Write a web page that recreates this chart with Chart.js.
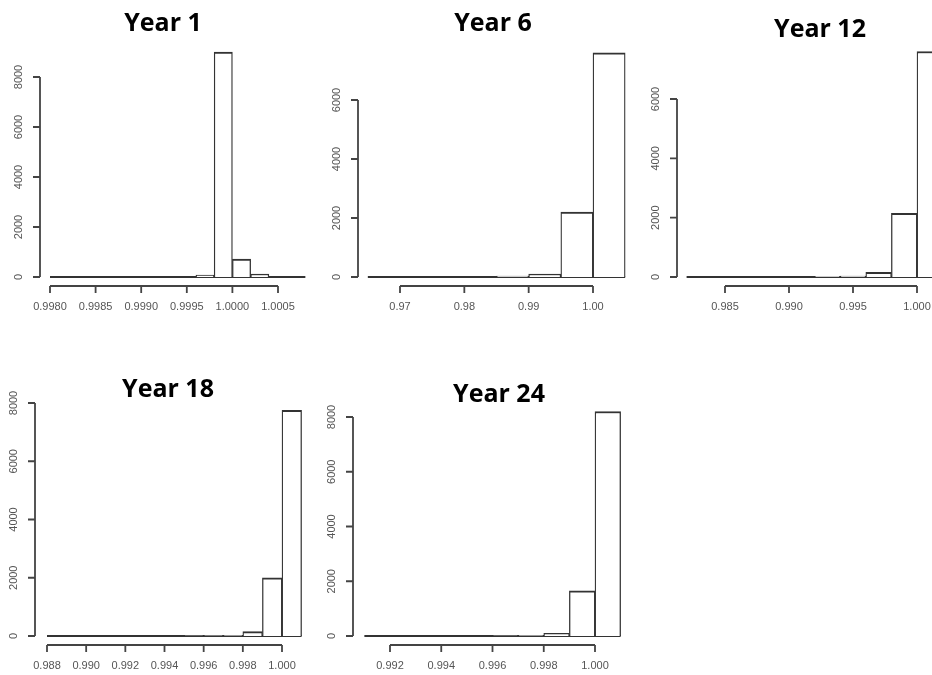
<!DOCTYPE html>
<html>
<head>
<meta charset="utf-8">
<script src="https://cdn.jsdelivr.net/npm/chart.js@4/dist/chart.umd.min.js"></script>
<style>
  body { margin: 0; background: #fff; width: 932px; height: 675px; overflow: hidden; position: relative; }
  canvas { position: absolute; left: 0; top: 0; }
  .ttl { position: absolute; font: bold 25px "Open Sans", sans-serif; color: #000;
         transform: translate(-50%, -50%); white-space: nowrap; }
</style>
</head>
<body>
<script>
// histogram data, one list per panel (bin counts, left to right)
const years = ['Year 1', 'Year 6', 'Year 12', 'Year 18', 'Year 24'];
const binStart = [0.9980, 0.965, 0.982, 0.988, 0.991];
const binWidth = [0.0002, 0.005, 0.002, 0.001, 0.001];

const counts1 = [0, 0, 0, 0, 0, 0, 0, 0, 80, 9000, 720, 120, 0, 0];
const counts6 = [0, 0, 0, 0, 30, 100, 2200, 7600];
const counts12 = [0, 0, 0, 0, 0, 20, 30, 160, 2150, 7600];
const counts18 = [0, 0, 0, 0, 0, 0, 0, 10, 15, 20, 150, 2000, 7750];
const counts24 = [0, 0, 0, 0, 0, 10, 20, 100, 1650, 8200];

// tick labels
const xTicks1 = ['0.9980', '0.9985', '0.9990', '0.9995', '1.0000', '1.0005'];
const xTicks6 = ['0.97', '0.98', '0.99', '1.00'];
const xTicks12 = ['0.985', '0.990', '0.995', '1.000'];
const xTicks18 = ['0.988', '0.990', '0.992', '0.994', '0.996', '0.998', '1.000'];
const xTicks24 = ['0.992', '0.994', '0.996', '0.998', '1.000'];
const yTicks8000 = ['0', '2000', '4000', '6000', '8000'];
const yTicks6000 = ['0', '2000', '4000', '6000'];

// where each panel sits on the page
const W = 960, H = 675;
const layout = [
  { x0: 50,  x1: 278, yTop: 77,  yBase: 277, yAxisX: 40,  xAxisY: 286, tx: 163, ty: 21 },
  { x0: 400, x1: 593, yTop: 100, yBase: 277, yAxisX: 358, xAxisY: 286, tx: 493, ty: 21 },
  { x0: 725, x1: 917, yTop: 99,  yBase: 277, yAxisX: 677, xAxisY: 286, tx: 820, ty: 27 },
  { x0: 47,  x1: 282, yTop: 403, yBase: 636, yAxisX: 35,  xAxisY: 645, tx: 168, ty: 387 },
  { x0: 390, x1: 595, yTop: 417, yBase: 636, yAxisX: 353, xAxisY: 645, tx: 499, ty: 392 }
];

const panels = [
  { counts: counts1,  xLabels: xTicks1,  yLabels: yTicks8000 },
  { counts: counts6,  xLabels: xTicks6,  yLabels: yTicks6000 },
  { counts: counts12, xLabels: xTicks12, yLabels: yTicks6000 },
  { counts: counts18, xLabels: xTicks18, yLabels: yTicks8000 },
  { counts: counts24, xLabels: xTicks24, yLabels: yTicks8000 }
];

const LINE = '#444';
const TEXT = '#555';

// R-style detached axes + zero line, drawn from the chart's scales
const rAxes = {
  id: 'rAxes',
  beforeDatasetsDraw(chart, args, o) {
    const { ctx, scales: { x, y } } = chart;
    const y0 = y.getPixelForValue(0);
    ctx.save();
    ctx.strokeStyle = '#333';
    ctx.lineWidth = 2;
    ctx.beginPath();
    ctx.moveTo(x.getPixelForValue(o.binFrom), y0);
    ctx.lineTo(x.getPixelForValue(o.binTo), y0);
    ctx.stroke();
    ctx.restore();
  },
  afterDatasetsDraw(chart, args, o) {
    const { ctx, scales: { x, y } } = chart;
    ctx.save();
    ctx.strokeStyle = LINE;
    ctx.lineWidth = 1.8;
    ctx.fillStyle = TEXT;
    ctx.font = '11px "Liberation Sans", Arial, sans-serif';

    // y axis
    const yv = o.yLabels.map(Number);
    ctx.beginPath();
    ctx.moveTo(o.yAxisX, y.getPixelForValue(yv[0]));
    ctx.lineTo(o.yAxisX, y.getPixelForValue(yv[yv.length - 1]));
    yv.forEach(v => {
      const py = y.getPixelForValue(v);
      ctx.moveTo(o.yAxisX, py);
      ctx.lineTo(o.yAxisX - 7, py);
    });
    ctx.stroke();
    ctx.textAlign = 'center';
    ctx.textBaseline = 'middle';
    o.yLabels.forEach((lab, i) => {
      ctx.save();
      ctx.translate(o.yAxisX - 21, y.getPixelForValue(yv[i]));
      ctx.rotate(-Math.PI / 2);
      ctx.fillText(lab, 0, 0);
      ctx.restore();
    });

    // x axis
    const xv = o.xLabels.map(Number);
    ctx.beginPath();
    ctx.moveTo(x.getPixelForValue(xv[0]), o.xAxisY);
    ctx.lineTo(x.getPixelForValue(xv[xv.length - 1]), o.xAxisY);
    xv.forEach(v => {
      const px = x.getPixelForValue(v);
      ctx.moveTo(px, o.xAxisY);
      ctx.lineTo(px, o.xAxisY + 7);
    });
    ctx.stroke();
    o.xLabels.forEach((lab, i) => {
      ctx.fillText(lab, x.getPixelForValue(xv[i]), o.xAxisY + 21);
    });
    ctx.restore();
  }
};

panels.forEach((p, k) => {
  const L = layout[k];
  const start = binStart[k], w = binWidth[k];
  const xv = p.xLabels.map(Number);

  const canvas = document.createElement('canvas');
  canvas.width = W;
  canvas.height = H;
  document.body.appendChild(canvas);

  const t = document.createElement('div');
  t.className = 'ttl';
  t.textContent = years[k];
  t.style.left = L.tx + 'px';
  t.style.top = L.ty + 'px';
  document.body.appendChild(t);

  new Chart(canvas.getContext('2d'), {
    type: 'bar',
    data: {
      datasets: [{
        data: p.counts.map((c, i) => ({ x: start + (i + 0.5) * w, y: c })),
        backgroundColor: '#fff',
        borderColor: '#333',
        borderWidth: { top: 2, left: 1.3, right: 1.3, bottom: 0 },
        borderSkipped: false,
        barPercentage: 1,
        categoryPercentage: 1,
        clip: false
      }]
    },
    options: {
      responsive: false,
      animation: false,
      devicePixelRatio: 1,
      events: [],
      layout: { padding: { left: L.x0, right: W - L.x1, top: L.yTop, bottom: H - L.yBase } },
      scales: {
        x: {
          type: 'linear', display: false, offset: false,
          grid: { offset: false },
          min: xv[0], max: xv[xv.length - 1],
          afterBuildTicks: s => { s.ticks = xv.map(v => ({ value: v })); }
        },
        y: {
          type: 'linear', display: false,
          min: 0, max: Number(p.yLabels[p.yLabels.length - 1])
        }
      },
      plugins: {
        legend: { display: false },
        tooltip: { enabled: false },
        rAxes: {
          xLabels: p.xLabels, yLabels: p.yLabels,
          yAxisX: L.yAxisX, xAxisY: L.xAxisY,
          binFrom: start, binTo: start + p.counts.length * w
        }
      }
    },
    plugins: [rAxes]
  });
});
</script>
</body>
</html>
